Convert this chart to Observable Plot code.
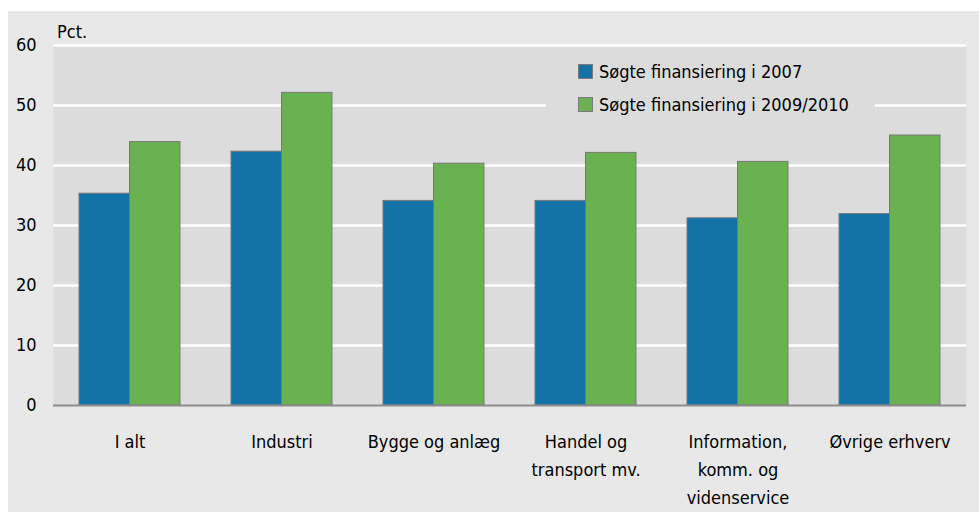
<!DOCTYPE html>
<html>
<head>
<meta charset="utf-8">
<script src="https://cdn.jsdelivr.net/npm/d3@7"></script>
<script src="https://cdn.jsdelivr.net/npm/@observablehq/plot@0.6"></script>
<style>
  html, body { margin: 0; padding: 0; background: #ffffff; }
  #wrap { position: absolute; left: 8px; top: 11px; width: 971px; height: 501px; background: #e8e8e8; overflow: hidden;
          font-family: "Liberation Sans Narrow", "DejaVu Sans Condensed", "Roboto Condensed", sans-serif; }
  #unit { position: absolute; left: 49px; top: 10px; font-size: 18px; color: #000; }
  #legend { position: absolute; left: 538px; top: 42px; width: 329px; height: 68px; background: #dcdcdc; font-size: 18px; color: #000; }
  .item { position: absolute; left: 32px; height: 22px; line-height: 22px; white-space: nowrap; }
  .sw { display: inline-block; width: 13px; height: 13px; border: 1px solid #7a7a7a; vertical-align: -1px; margin-right: 6px; }
</style>
</head>
<body>
<div id="wrap">
  <div id="unit"></div>
  <div id="legend"></div>
</div>
<script>
const categories = ["I alt", "Industri", "Bygge og anlæg", "Handel og\ntransport mv.", "Information,\nkomm. og\nvidenservice", "Øvrige erhverv"];
const series = ["Søgte finansiering i 2007", "Søgte finansiering i 2009/2010"];
const values2007 = [35.3, 42.3, 34.1, 34.1, 31.2, 31.9];
const values2009 = [43.9, 52.1, 40.3, 42.1, 40.6, 45.0];
const colors = ["#1372a6", "#69b151"];
const yTicks = [0, 10, 20, 30, 40, 50, 60];
const unitLabel = "Pct.";

const rows2007 = categories.map((c, i) => ({category: c, series: series[0], value: values2007[i]}));
const rows2009 = categories.map((c, i) => ({category: c, series: series[1], value: values2009[i]}));

const font = '"Liberation Sans Narrow", "DejaVu Sans Condensed", sans-serif';

function build(half) {
  return Plot.plot({
    width: 971,
    height: 501,
    marginLeft: 45,
    marginRight: 13,
    marginTop: 34,
    marginBottom: 107,
    style: {background: "transparent", fontFamily: font, fontSize: "18px", color: "#000"},
    x: {domain: categories, paddingInner: 0.335, paddingOuter: 0.1675, label: null},
    y: {domain: [0, 60], label: null},
    color: {domain: series, range: colors},
    marks: [
      Plot.frame({fill: "#dcdcdc", stroke: null}),
      Plot.ruleY(yTicks.filter(d => d > 0), {stroke: "#ffffff", strokeWidth: 2.5}),
      Plot.barY(rows2007, {x: "category", y: "value", fill: "series", stroke: "#787878", strokeWidth: 1, insetRight: half}),
      Plot.barY(rows2009, {x: "category", y: "value", fill: "series", stroke: "#787878", strokeWidth: 1, insetLeft: half}),
      Plot.ruleY([0], {stroke: "#8c8c8c", strokeWidth: 2}),
      Plot.axisY({ticks: yTicks, tickSize: 0, tickPadding: 17, label: null, fontSize: 18, tickFormat: d => String(d)}),
      Plot.axisX({anchor: "bottom", tickSize: 0, tickPadding: 23, label: null, fontSize: 18, lineHeight: 1.55})
    ]
  });
}

const probe = build(0);
const half = probe.scale("x").bandwidth / 2;
const chart = build(half);

const wrap = document.getElementById("wrap");
wrap.insertBefore(chart, wrap.firstChild);
chart.style.position = "absolute";
chart.style.left = "0px";
chart.style.top = "0px";

document.getElementById("unit").textContent = unitLabel;
const legend = document.getElementById("legend");
series.forEach((s, i) => {
  const it = document.createElement("div");
  it.className = "item";
  it.style.top = (8 + i * 33) + "px";
  const sw = document.createElement("span");
  sw.className = "sw";
  sw.style.background = colors[i];
  it.appendChild(sw);
  it.appendChild(document.createTextNode(s));
  legend.appendChild(it);
});
</script>
</body>
</html>
